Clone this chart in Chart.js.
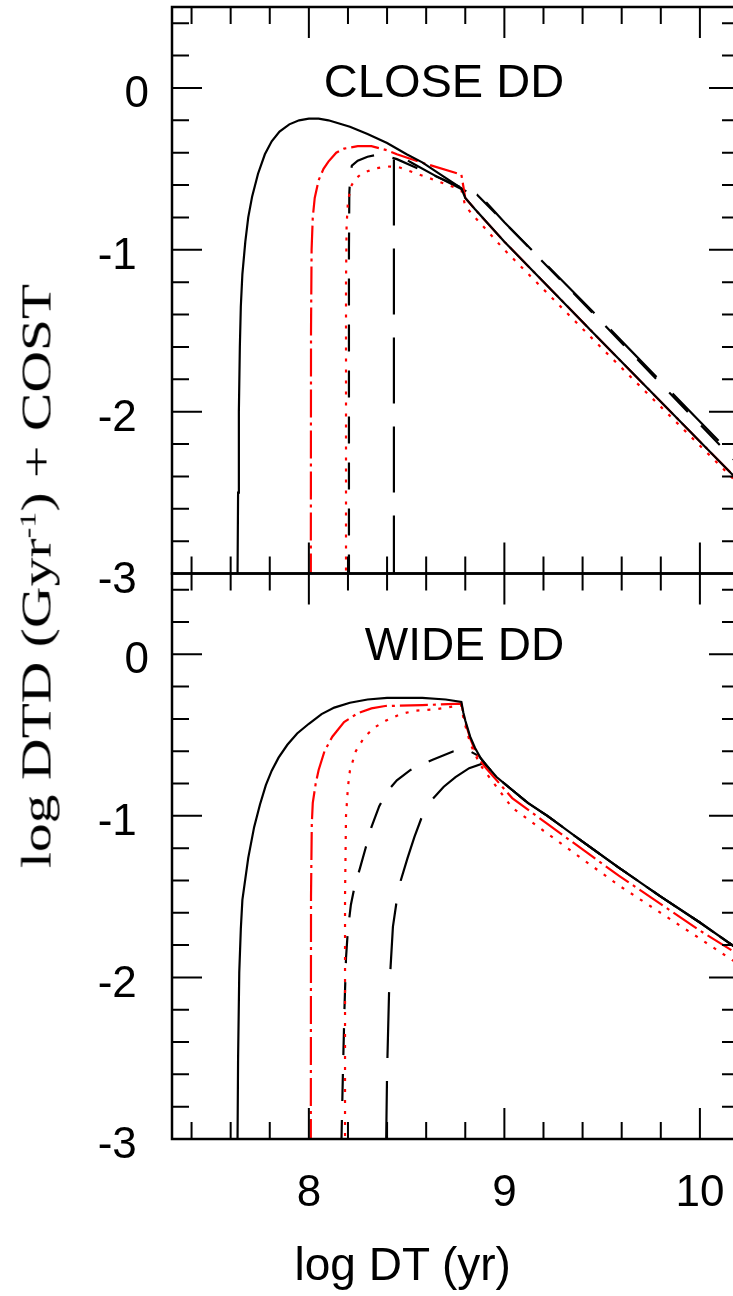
<!DOCTYPE html>
<html>
<head>
<meta charset="utf-8">
<script src="https://cdn.jsdelivr.net/npm/chart.js@4.4.1/dist/chart.umd.min.js"></script>
<style>
html, body { margin:0; padding:0; background:#fff; overflow:hidden; }
body { width:733px; height:1296px; position:relative; }
canvas { position:absolute; left:0; }
#cTop { top:0; }
#cBot { top:540px; }
#ylab { position:absolute; left:35.5px; top:576px; transform-origin:0 0;
  transform: rotate(-90deg) scaleX(1.34) translate(-50%,-50%);
  font-family:'Liberation Serif'; font-size:43px; line-height:1; white-space:nowrap; color:#000; }
#ylab sup { font-size:24px; line-height:0; }
#xlab { position:absolute; left:294.5px; top:1241px; font-family:'Liberation Sans'; font-size:46px;
  line-height:1; white-space:nowrap; color:#000; }
</style>
</head>
<body>
<canvas id="cTop" width="745" height="610"></canvas>
<canvas id="cBot" width="745" height="756"></canvas>
<div id="ylab">log DTD (Gyr<sup>-1</sup>) + COST</div>
<div id="xlab">log DT (yr)</div>
<script>
// ---- axes / tick labels ----
const xTicks = [8, 9, 10];
const yTicks = [-3, -2, -1, 0];
const xMin = 7.3, xMax = 10.2;
const yMin = -3, yMax = 0.5;
const panelLabels = ['CLOSE DD', 'WIDE DD'];

// ---- CLOSE DD panel ----
const closeSolidX = [7.635,7.638,7.642,7.647,7.652,7.66,7.675,7.69,7.71,7.74,7.775,7.81,7.85,7.9,7.95,8.0,8.05,8.1,8.21,8.3,8.4,8.5,8.58,8.68,8.78,8.8,8.85,9.0,9.5,10.2];
const closeSolidY = [-3.05,-2.5,-2.0,-1.6,-1.35,-1.15,-0.95,-0.8,-0.67,-0.53,-0.41,-0.33,-0.27,-0.225,-0.2,-0.19,-0.19,-0.2,-0.24,-0.285,-0.34,-0.41,-0.46,-0.54,-0.62,-0.68,-0.75,-0.95,-1.57,-2.43];

const closeDashDotX = [8.01,8.011,8.014,8.02,8.03,8.05,8.075,8.1,8.14,8.18,8.25,8.32,8.4,8.45,8.6,8.78,8.8,8.85,9.0,9.5,10.2];
const closeDashDotY = [-3.05,-1.5,-1.0,-0.8,-0.68,-0.57,-0.5,-0.455,-0.4,-0.375,-0.36,-0.36,-0.385,-0.41,-0.47,-0.535,-0.68,-0.75,-0.95,-1.57,-2.43];

const closeDotX = [8.19,8.19,8.193,8.2,8.215,8.235,8.27,8.33,8.4,8.46,8.6,8.78,8.8,8.85,9.0,9.5,10.2];
const closeDotY = [-3.05,-1.2,-0.85,-0.7,-0.61,-0.565,-0.53,-0.5,-0.485,-0.49,-0.55,-0.63,-0.73,-0.8,-1.0,-1.61,-2.45];

const closeShortX = [8.205,8.205,8.207,8.212,8.22,8.25,8.3,8.36,8.45,8.6,8.78,8.82,8.86,9.0,9.5,10.2];
const closeShortY = [-3.05,-1.0,-0.65,-0.53,-0.48,-0.45,-0.425,-0.41,-0.44,-0.52,-0.615,-0.64,-0.66,-0.83,-1.45,-2.33];

const closeLongX = [8.435,8.435,8.45,8.53,8.65,8.78,8.83,8.89,9.0,9.5,10.2];
const closeLongY = [-3.05,-0.4,-0.41,-0.465,-0.545,-0.625,-0.65,-0.685,-0.83,-1.44,-2.31];

// ---- WIDE DD panel ----
const wideSolidX = [7.635,7.638,7.644,7.652,7.66,7.69,7.72,7.75,7.78,7.81,7.845,7.89,7.94,8.0,8.065,8.13,8.21,8.3,8.4,8.58,8.7,8.78,8.79,8.8,8.825,8.85,8.88,8.91,8.96,9.04,9.12,9.22,9.4,9.585,9.8,10.0,10.2];
const wideSolidY = [-3.05,-2.5,-1.97,-1.7,-1.52,-1.26,-1.07,-0.93,-0.81,-0.72,-0.64,-0.56,-0.49,-0.43,-0.37,-0.33,-0.3,-0.28,-0.27,-0.27,-0.28,-0.295,-0.36,-0.41,-0.51,-0.58,-0.645,-0.69,-0.76,-0.84,-0.92,-1.0,-1.16,-1.32,-1.5,-1.66,-1.83];

const wideDashDotX = [8.01,8.011,8.015,8.02,8.035,8.05,8.08,8.12,8.18,8.25,8.32,8.39,8.58,8.78,8.79,8.8,8.825,8.85,8.88,8.91,9.04,9.22,9.585,10.0,10.2];
const wideDashDotY = [-3.05,-1.5,-1.05,-0.92,-0.8,-0.716,-0.6,-0.51,-0.42,-0.365,-0.335,-0.32,-0.315,-0.305,-0.37,-0.42,-0.52,-0.595,-0.665,-0.71,-0.89,-1.05,-1.37,-1.71,-1.86];

const wideDotX = [8.185,8.185,8.19,8.2,8.21,8.24,8.285,8.34,8.395,8.47,8.54,8.65,8.78,8.79,8.8,8.825,8.85,8.88,8.91,9.04,9.22,9.585,10.0,10.2];
const wideDotY = [-3.05,-1.5,-1.0,-0.82,-0.72,-0.6,-0.51,-0.45,-0.41,-0.37,-0.35,-0.34,-0.315,-0.39,-0.44,-0.55,-0.62,-0.69,-0.74,-0.95,-1.11,-1.43,-1.76,-1.92];

const wideShortX = [8.166,8.174,8.182,8.19,8.2,8.215,8.235,8.26,8.29,8.32,8.36,8.4,8.45,8.52,8.63,8.74,8.8,8.87,8.91,8.96,9.04,9.12,9.22,9.4,9.585,9.8,10.0,10.2];
const wideShortY = [-3.05,-2.6,-2.2,-1.88,-1.7,-1.55,-1.43,-1.33,-1.2,-1.07,-0.94,-0.85,-0.78,-0.716,-0.654,-0.6,-0.585,-0.63,-0.69,-0.76,-0.84,-0.92,-1.0,-1.16,-1.32,-1.5,-1.66,-1.83];

const wideLongX = [8.395,8.4,8.41,8.43,8.45,8.47,8.505,8.54,8.58,8.63,8.69,8.75,8.82,8.89,8.91,8.96,9.04,9.12,9.22,9.4,9.585,9.8,10.0,10.2];
const wideLongY = [-3.05,-2.59,-2.1,-1.685,-1.52,-1.4,-1.26,-1.13,-1.0,-0.9,-0.82,-0.76,-0.705,-0.675,-0.69,-0.76,-0.84,-0.92,-1.0,-1.16,-1.32,-1.5,-1.66,-1.83];

// ---- styles ----
const RED = '#ff0000', BLACK = '#000000';
const DASH = { solid: [], dashdot: [28,5,3,5], dot: [3,8], short: [27,19], long: [66,23] };

function pts(xs, ys) { return xs.map((x, i) => ({ x: x, y: ys[i] })); }
function series(label, xs, ys, color, dash) {
  return { label: label, data: pts(xs, ys), borderColor: color, borderWidth: 2.2,
           borderDash: dash, pointRadius: 0, tension: 0, fill: false };
}

const frameTicks = {
  id: 'frameTicks',
  afterDatasetsDraw(chart, args, opts) {
    const ctx = chart.ctx, a = chart.chartArea;
    const xs = chart.scales.x, ys = chart.scales.y;
    ctx.save();
    ctx.strokeStyle = '#000';
    ctx.lineWidth = 2;
    ctx.setLineDash([]);
    ctx.beginPath();
    for (let k = 36; k <= 52; k++) {
      const v = k / 5;
      if (v <= xMin + 1e-9 || v >= xMax - 1e-9) continue;
      const major = Math.abs(v - Math.round(v)) < 1e-9;
      const len = major ? 31 : 17;
      const p = xs.getPixelForValue(v);
      ctx.moveTo(p, a.bottom); ctx.lineTo(p, a.bottom - len);
      ctx.moveTo(p, a.top); ctx.lineTo(p, a.top + len);
    }
    for (let k = -16; k <= 4; k++) {
      const v = k / 5;
      if (v <= yMin + 1e-9 || v >= yMax - 1e-9) continue;
      const major = Math.abs(v - Math.round(v)) < 1e-9;
      const len = major ? 30 : 17;
      const p = ys.getPixelForValue(v);
      ctx.moveTo(a.left, p); ctx.lineTo(a.left + len, p);
      ctx.moveTo(a.right, p); ctx.lineTo(a.right - len, p);
    }
    ctx.stroke();
    ctx.lineWidth = 2.5;
    ctx.strokeRect(a.left, a.top, a.right - a.left, a.bottom - a.top);
    if (opts && opts.label) {
      ctx.fillStyle = '#000';
      ctx.font = opts.font;
      ctx.textAlign = 'center';
      ctx.textBaseline = 'alphabetic';
      ctx.fillText(opts.label, opts.labelX, opts.labelY);
    }
    ctx.restore();
  }
};

function noPad(s) { s.paddingTop = 0; s.paddingBottom = 0; s.paddingLeft = 0; s.paddingRight = 0; }

function makeChart(id, datasets, cfg) {
  return new Chart(document.getElementById(id), {
    type: 'line',
    data: { datasets: datasets },
    options: {
      responsive: false, animation: false, devicePixelRatio: 1,
      layout: { padding: cfg.padding },
      plugins: { legend: { display: false }, tooltip: { enabled: false }, title: { display: false },
                 frameTicks: cfg.panel },
      scales: {
        x: { type: 'linear', min: xMin, max: xMax, display: cfg.showX,
             afterBuildTicks: s => { s.ticks = xTicks.map(v => ({ value: v })); },
             afterFit: s => { if (cfg.xHeight) s.height = cfg.xHeight; noPad(s); },
             grid: { display: false, drawTicks: false }, border: { display: false },
             ticks: { font: { family: 'Liberation Sans', size: 44 }, color: '#000', padding: 28,
                      maxRotation: 0, autoSkip: false, callback: v => String(v) } },
        y: { type: 'linear', min: yMin, max: yMax,
             afterBuildTicks: s => { s.ticks = yTicks.map(v => ({ value: v })); },
             afterFit: s => { s.width = 172; noPad(s); },
             grid: { display: false, drawTicks: false }, border: { display: false },
             ticks: { font: { family: 'Liberation Sans', size: 44 }, color: '#000', padding: 23,
                      labelOffset: 7, autoSkip: false,
                      callback: v => (v === 0 ? '0' : v + ' ') } }
      }
    },
    plugins: [frameTicks]
  });
}

makeChart('cTop', [
  series('solid', closeSolidX, closeSolidY, BLACK, DASH.solid),
  series('dash-dot', closeDashDotX, closeDashDotY, RED, DASH.dashdot),
  series('dotted', closeDotX, closeDotY, RED, DASH.dot),
  series('short dash', closeShortX, closeShortY, BLACK, DASH.short),
  series('long dash', closeLongX, closeLongY, BLACK, DASH.long)
], { padding: { left: 0, right: 6, top: 7, bottom: 36.5 }, showX: false,
     panel: { label: panelLabels[0], font: "47px 'Liberation Sans'", labelX: 444, labelY: 96.5 } });

makeChart('cBot', [
  series('solid', wideSolidX, wideSolidY, BLACK, DASH.solid),
  series('dash-dot', wideDashDotX, wideDashDotY, RED, DASH.dashdot),
  series('dotted', wideDotX, wideDotY, RED, DASH.dot),
  series('short dash', wideShortX, wideShortY, BLACK, DASH.short),
  series('long dash', wideLongX, wideLongY, BLACK, DASH.long)
], { padding: { left: 0, right: 6, top: 33.5, bottom: 0 }, showX: true, xHeight: 157,
     panel: { label: panelLabels[1], font: "46px 'Liberation Sans'", labelX: 464.5, labelY: 120 } });
</script>
</body>
</html>
